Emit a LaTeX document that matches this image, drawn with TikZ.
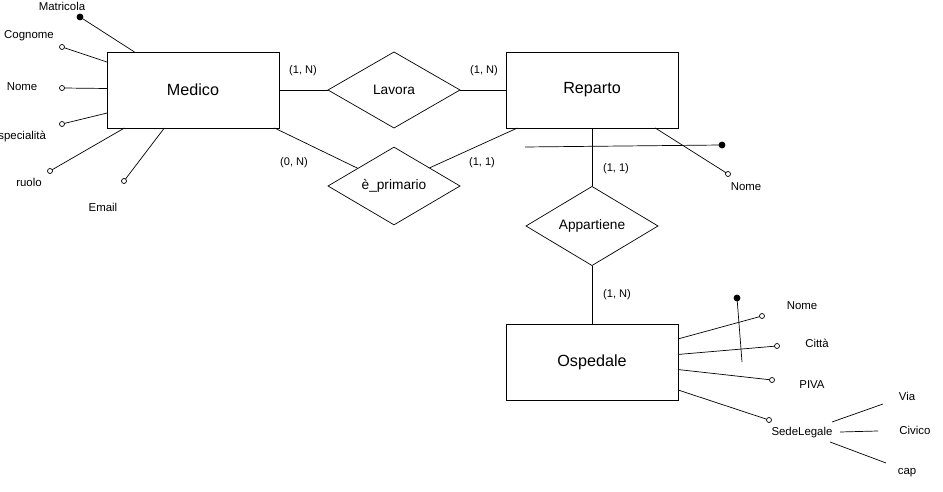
\documentclass[tikz,border=0pt]{standalone}
\usepackage{fontspec}
\setmainfont{Liberation Sans}
\usetikzlibrary{shapes.geometric}

\begin{document}
\begin{tikzpicture}[x=0.02cm, y=0.02cm,
    entity/.style={draw, rectangle, minimum width=3.44cm, minimum height=1.52cm, outer sep=0pt, font=\fontsize{9.2}{11}\selectfont},
    relation/.style={draw, diamond, minimum width=2.64cm, minimum height=1.52cm, inner sep=0pt, outer sep=0pt, font=\fontsize{7.8}{9}\selectfont},
    attr/.style={draw, circle, fill=white, minimum size=0.1cm, inner sep=0pt, outer sep=0pt},
    key/.style={attr, fill=black, minimum size=0.12cm},
    lbl/.style={font=\fontsize{6.5}{8}\selectfont, inner sep=0pt},
    card/.style={font=\fontsize{6.3}{8}\selectfont, inner sep=0pt}]
    \useasboundingbox (0,0) rectangle (943,-492);

    % Entities
    \node[entity] (medico) at (193,-90) {Medico};
    \node[entity] (reparto) at (592,-90) {Reparto};
    \node[entity] (ospedale) at (592,-362) {Ospedale};

    % Relationships
    \node[relation] (lavora) at (394,-90) {Lavora};
    \node[relation] (primario) at (394,-186) {è\_primario};
    \node[relation] (appartiene) at (592,-226) {Appartiene};

    \draw (medico) -- (lavora);
    \draw (lavora) -- (reparto);
    \draw (medico.335) -- (primario.154);
    \draw (primario.27) -- (reparto.207);
    \draw (reparto) -- (appartiene);
    \draw (appartiene) -- (ospedale);

    % Cardinalities
    \node[card] (c1) at (303,-71) {(1, N)};
    \node[card] (c2) at (484,-71) {(1, N)};
    \node[card] (c3) at (294,-163) {(0, N)};
    \node[card] (c4) at (482,-163) {(1, 1)};
    \node[card] (c5) at (616,-169) {(1, 1)};
    \node[card] (c6) at (617,-295) {(1, N)};

    % Attributes of Medico
    \node[key] (matricola) at (80,-17) {};
    \node[attr] (cognome) at (62,-47) {};
    \node[attr] (nomeM) at (62,-88) {};
    \node[attr] (specialita) at (62,-124) {};
    \node[attr] (ruolo) at (50,-171) {};
    \node[attr] (email) at (124,-181) {};
    \draw (medico.147) -- (matricola);
    \draw (medico.162) -- (cognome);
    \draw (medico.179) -- (nomeM);
    \draw (medico.195) -- (specialita);
    \draw (medico.209) -- (ruolo);
    \draw (medico.233) -- (email);
    \node[lbl] (matricolaL) at (62,-6) {Matricola};
    \node[lbl] (cognomeL) at (29,-36) {Cognome};
    \node[lbl] (nomeML) at (22,-87) {Nome};
    \node[lbl, anchor=west] (specialitaL) at (-2,-136) {specialità};
    \node[lbl] (ruoloL) at (29,-182) {ruolo};
    \node[lbl] (emailL) at (103,-207) {Email};

    % Attributes of Reparto
    \node[attr] (nomeR) at (728,-174) {};
    \draw (reparto.329) -- (nomeR);
    \node[lbl] (nomeRL) at (746,-187) {Nome};
    \coordinate (repKeyStart) at (525,-147);
    \node[key] (repKey) at (722,-145) {};
    \draw (repKeyStart) -- (repKey);

    % Attributes of Ospedale
    \node[attr] (nomeO) at (762,-316) {};
    \node[attr] (citta) at (777,-346) {};
    \node[attr] (piva) at (772,-380) {};
    \node[attr] (sede) at (769,-420) {};
    \draw (ospedale.15) -- (nomeO);
    \draw (ospedale.5) -- (citta);
    \draw (ospedale.355) -- (piva);
    \draw (ospedale.342) -- (sede);
    \node[lbl] (nomeOL) at (802,-306) {Nome};
    \node[lbl] (cittaL) at (817,-343) {Città};
    \node[lbl] (pivaL) at (812,-385) {PIVA};
    \node[lbl] (sedeL) at (802,-433) {SedeLegale};
    \node[key] (ospKey) at (737,-298) {};
    \coordinate (ospKeyEnd) at (742,-362);
    \draw (ospKey) -- (ospKeyEnd);

    % Composite attribute SedeLegale
    \coordinate (viaA) at (832,-422);
    \coordinate (viaB) at (883,-404);
    \coordinate (civicoA) at (840,-432);
    \coordinate (civicoB) at (878,-431);
    \coordinate (capA) at (830,-442);
    \coordinate (capB) at (886,-463);
    \draw (viaA) -- (viaB);
    \draw (civicoA) -- (civicoB);
    \draw (capA) -- (capB);
    \node[lbl] (viaL) at (907,-396) {Via};
    \node[lbl] (civicoL) at (915,-430) {Civico};
    \node[lbl] (capL) at (907,-473) {cap};
\end{tikzpicture}
\end{document}
